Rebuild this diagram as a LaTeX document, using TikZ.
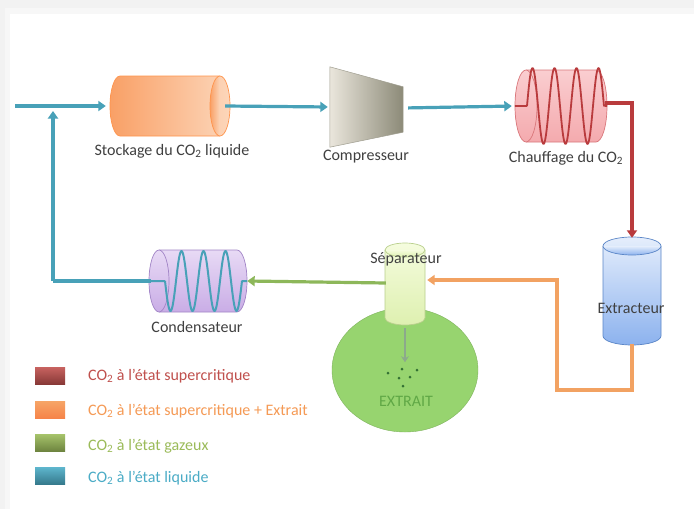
\documentclass[tikz,border=0pt]{standalone}
\usepackage{fontspec}
\setmainfont{Carlito}
\usetikzlibrary{arrows.meta,shapes.geometric,calc}

\definecolor{lineblue}{HTML}{48A1B8}
\definecolor{linered}{HTML}{B93B3D}
\definecolor{lineorange}{HTML}{F2A262}
\definecolor{linegreen}{HTML}{8DB75A}
\definecolor{labeltext}{HTML}{404040}
\definecolor{legred}{HTML}{C0504D}
\definecolor{legorange}{HTML}{F59A55}
\definecolor{leggreen}{HTML}{9BBB59}
\definecolor{legblue}{HTML}{4BACC6}
\definecolor{extractgreen}{HTML}{97D46F}

% horizontal cylinder, end face on the right: style, x1, x2, centre y, half height, end radius
\newcommand\hcylR[6]{%
  \path[#1] ({#2+#6},{#4-#5}) -- ({#3-#6},{#4-#5})
    arc[start angle=90,end angle=-90,x radius=#6pt,y radius=#5pt]
    -- ({#2+#6},{#4+#5})
    arc[start angle=270,end angle=90,x radius=#6pt,y radius=#5pt] -- cycle;
  \path[#1,fill=none] ({#3-#6},{#4-#5}) arc[start angle=90,end angle=270,x radius=#6pt,y radius=#5pt];}
% horizontal cylinder, end face on the left
\newcommand\hcylL[6]{%
  \path[#1] ({#2+#6},{#4-#5}) -- ({#3-#6},{#4-#5})
    arc[start angle=90,end angle=-90,x radius=#6pt,y radius=#5pt]
    -- ({#2+#6},{#4+#5})
    arc[start angle=270,end angle=90,x radius=#6pt,y radius=#5pt] -- cycle;
  \path[#1,fill=none] ({#2+#6},{#4-#5}) arc[start angle=90,end angle=-90,x radius=#6pt,y radius=#5pt];}
% upright cylinder, end face on top: style, x1, x2, top, bottom, end radius
\newcommand\vcyl[6]{%
  \path[#1] (#2,{#4+#6}) -- (#2,{#5-#6})
    arc[start angle=180,end angle=360,x radius={(#3-#2)/2*1pt},y radius=#6pt]
    -- (#3,{#4+#6})
    arc[start angle=0,end angle=180,x radius={(#3-#2)/2*1pt},y radius=#6pt] -- cycle;
  \path[#1,fill=none] (#2,{#4+#6}) arc[start angle=180,end angle=360,x radius={(#3-#2)/2*1pt},y radius=#6pt];}

\begin{document}
\begin{tikzpicture}[x=1pt,y=-1pt,
  flow/.style={line width=3.2pt, -{Triangle[length=7.5pt,width=10pt]}},
  plain/.style={line width=3.2pt},
  box/.style={rectangle, inner sep=0pt},
  lbl/.style={font=\fontsize{16}{19}\selectfont, text=labeltext, inner sep=0pt},
  legtxt/.style={font=\fontsize{16}{19}\selectfont, inner sep=0pt, anchor=west},
  swatch/.style={minimum width=30pt, minimum height=17pt, inner sep=0pt}
]
% page background with a soft grey frame at top and left
\fill[black!5] (0,0) rectangle (694,509);
\fill[black!3] (5,8) rectangle (694,509);
\fill[white] (10,14) rectangle (694,509);
\useasboundingbox (0,0) rectangle (694,509);

% ---------- equipment ----------
\node[box, minimum width=120pt, minimum height=60pt] (stock) at (170,106) {};
\hcylR{draw=orange!80!red!70, line width=0.7pt, left color={rgb,255:red,249;green,160;blue,102}, right color={rgb,255:red,252;green,214;blue,186}}{110}{230}{106}{30}{10}

\node[box, minimum width=73pt, minimum height=80pt] (comp) at (366.5,107) {};
\shade[left color={rgb,255:red,234;green,230;blue,220}, right color={rgb,255:red,140;green,138;blue,120},
       draw={rgb,255:red,160;green,158;blue,144}, line width=0.5pt]
  (comp.north west) -- ($(comp.north east)+(0,20)$) -- ($(comp.south east)+(0,-15)$)
  -- (comp.south west) -- cycle;

\node[box, minimum width=92pt, minimum height=72pt] (chauf) at (561,106) {};
\hcylL{draw={rgb,255:red,217;green,119;blue,123}, line width=0.7pt, top color={rgb,255:red,250;green,206;blue,208}, bottom color={rgb,255:red,244;green,170;blue,174}}{515}{607}{106}{36}{11}

\node[box, minimum width=58pt, minimum height=108pt] (extc) at (632,291) {};
\vcyl{draw={rgb,255:red,91;green,134;blue,199}, line width=0.7pt, top color={rgb,255:red,229;green,238;blue,252}, bottom color={rgb,255:red,140;green,178;blue,238}}{603}{661}{237}{345}{9}

\node[ellipse, minimum width=146pt, minimum height=124pt, inner sep=0pt,
      fill=extractgreen, draw=extractgreen!85!black] (extr) at (405,370) {};

\node[box, minimum width=40pt, minimum height=82pt] (sep) at (405,284) {};
\vcyl{draw={rgb,255:red,185;green,207;blue,140}, line width=0.7pt, top color={rgb,255:red,245;green,252;blue,222}, bottom color={rgb,255:red,222;green,240;blue,176}}{385}{425}{243}{325}{7}

\node[box, minimum width=98pt, minimum height=62pt] (cond) at (198,281) {};
\hcylL{draw={rgb,255:red,161;green,132;blue,198}, line width=0.7pt, top color={rgb,255:red,232;green,218;blue,245}, bottom color={rgb,255:red,201;green,173;blue,230}}{149}{247}{281}{31}{10}

% heating coil
\draw[linered, line width=1.8pt, line join=round]
  (chauf.west) -- (527,106)
  plot[domain=0:3.5, samples=120, smooth] ({527+22*\x},{106-38*sin(360*\x)})
  -- (chauf.east);

% cooling coil
\draw[lineblue, line width=2pt, line join=round]
  (cond.west) -- (165,281)
  plot[domain=0:3.5, samples=120, smooth] ({165+22*\x},{281+30*sin(360*\x)})
  -- (cond.east);

% ---------- labels ----------
\node[lbl] (lstock) at (172,151) {Stockage du CO\textsubscript{2} liquide};
\node[lbl] (lcomp) at (366,157) {Compresseur};
\node[lbl] (lchauf) at (566,158) {Chauffage du CO\textsubscript{2}};
\node[lbl] (lextc) at (631,308) {Extracteur};
\node[lbl] (lsep) at (406,259) {Séparateur};
\node[lbl] (lcond) at (197,327) {Condensateur};
\node[lbl, text={rgb,255:red,96;green,168;blue,70}] (lextr) at (406,401) {EXTRAIT};

% extract droplets
\foreach \px/\py in {388/373, 402/369, 417/370, 399/378, 410/377, 403/386}
  \fill[green!30!black!80] (\px,\py) circle (1.5pt);

% ---------- connectors ----------
\coordinate (inlet) at (15,106);
\coordinate (joint) at (53,281);
\coordinate (jtop) at (53,111);
\coordinate (ocorner) at (557,390);

\draw[flow, lineblue, shorten >=4pt] (inlet) -- (stock.west);
\draw[flow, lineblue, shorten >=2pt] ([xshift=-5pt]stock.east) -- (comp.west);
\draw[flow, lineblue, shorten <=5pt, shorten >=3pt] ([yshift=-1pt]comp.east) -- (chauf.west);
\draw[flow, linered] ([xshift=-2pt,yshift=3pt]chauf.east) -| ([yshift=-1pt]extc.north);
\draw[flow, lineorange] ([yshift=1pt]extc.south) |- (ocorner) |- ([xshift=2pt,yshift=4pt]sep.east);
\draw[flow, linegreen] ([xshift=1pt,yshift=1pt]sep.west) -- (cond.east);
\draw[plain, lineblue] ([xshift=2pt]cond.west) -- (joint);
\draw[flow, lineblue] (joint) -- (jtop);
\draw[line width=1.5pt, -{Stealth[length=6pt,width=8pt,inset=2pt]}, draw=green!25!black!45]
  ([yshift=-3pt]sep.south) -- ++(0,34);

% ---------- legend ----------
\node[swatch, top color=legred!90, bottom color=legred!70!black] (s1) at (50,376) {};
\node[swatch, top color=legorange!90, bottom color=legorange!85!red] (s2) at (50,410) {};
\node[swatch, top color=leggreen!90, bottom color=leggreen!70!black] (s3) at (50,443) {};
\node[swatch, top color=legblue!90, bottom color=legblue!70!black] (s4) at (50,476) {};

\node[legtxt, text=legred] (t1) at (88,376) {CO\textsubscript{2} à l'état supercritique};
\node[legtxt, text=legorange] (t2) at (88,411) {CO\textsubscript{2} à l'état supercritique + Extrait};
\node[legtxt, text=leggreen] (t3) at (88,446) {CO\textsubscript{2} à l'état gazeux};
\node[legtxt, text=legblue] (t4) at (88,478) {CO\textsubscript{2} à l'état liquide};
\end{tikzpicture}
\end{document}
